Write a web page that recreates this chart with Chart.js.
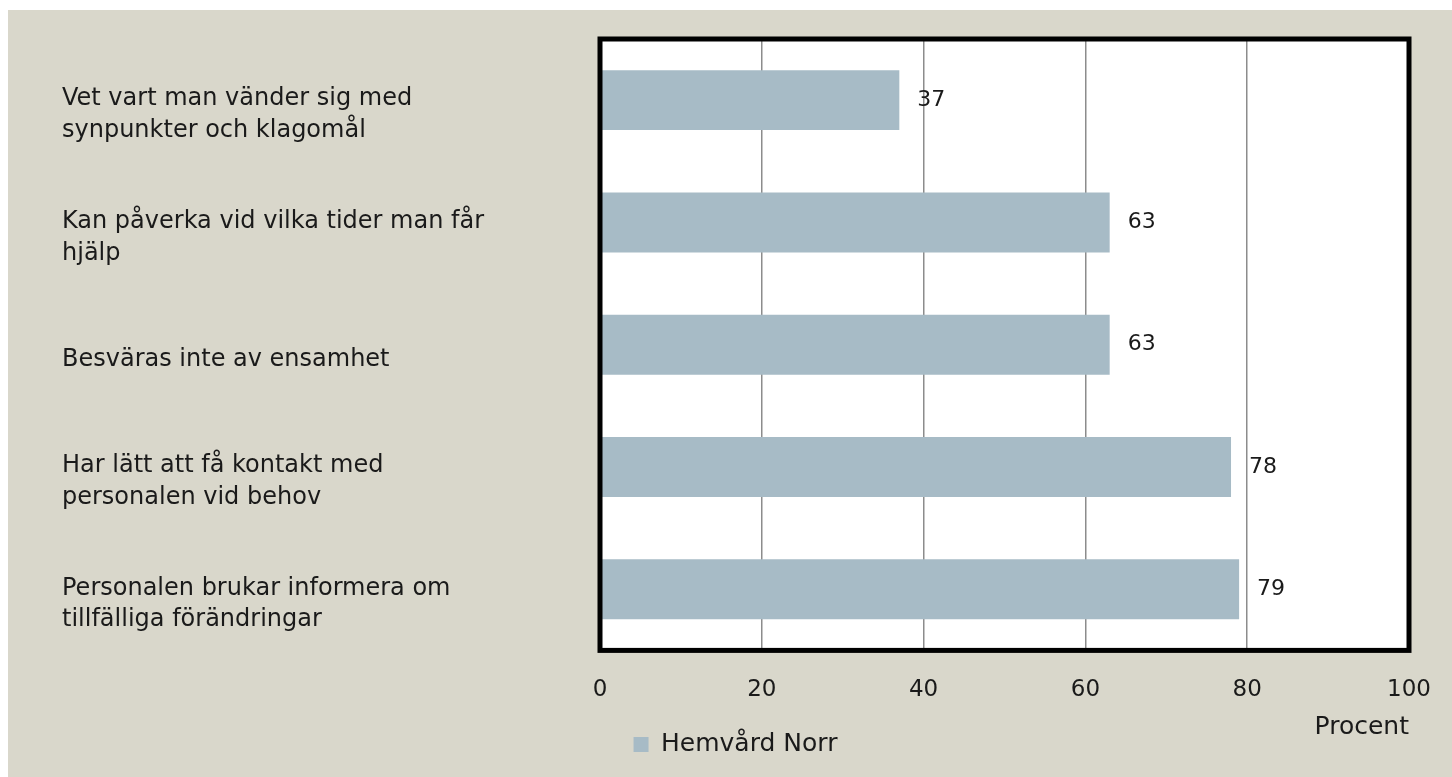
<!DOCTYPE html>
<html>
<head>
<meta charset="utf-8">
<script src="https://cdn.jsdelivr.net/npm/chart.js@4.4.0/dist/chart.umd.min.js"></script>
<style>
    html, body { margin: 0; padding: 0; background: #fff; }
    .chart-wrap { position: absolute; left: 8px; top: 10px; width: 1444px; height: 767px; background: #d9d7cb; }
</style>
</head>
<body>
<div class="chart-wrap"><canvas id="barChart"></canvas></div>
<script>
    // Données
    const categories = [
        ['Vet vart man vänder sig med', 'synpunkter och klagomål'],
        ['Kan påverka vid vilka tider man får', 'hjälp'],
        'Besväras inte av ensamhet',
        ['Har lätt att få kontakt med', 'personalen vid behov'],
        ['Personalen brukar informera om', 'tillfälliga förändringar']
    ];
    const hemvardNorr = [37, 63, 63, 78, 79];
    const seriesName = 'Hemvård Norr';
    const xMin = 0, xMax = 100, xStep = 20;
    const xTitle = 'Procent';

    const FONT = 'DejaVu Sans';
    const TEXT = '#1a1a1a';

    // fond blanc + cadre noir de la zone de tracé
    const plotFrame = {
        id: 'plotFrame',
        beforeDraw(chart) {
            const { ctx, chartArea: a } = chart;
            ctx.save();
            ctx.fillStyle = '#fff';
            ctx.fillRect(a.left, a.top, a.right - a.left, a.bottom - a.top);
            ctx.restore();
        },
        afterDraw(chart) {
            const { ctx, chartArea: a } = chart;
            ctx.save();
            ctx.strokeStyle = '#000';
            ctx.lineWidth = 5;
            ctx.strokeRect(a.left, a.top, a.right - a.left, a.bottom - a.top);
            ctx.restore();
        }
    };

    // étiquettes de valeurs à droite des barres
    const valueLabels = {
        id: 'valueLabels',
        afterDatasetsDraw(chart) {
            const { ctx } = chart;
            const meta = chart.getDatasetMeta(0);
            ctx.save();
            ctx.font = '22px "' + FONT + '"';
            ctx.fillStyle = TEXT;
            ctx.textBaseline = 'middle';
            meta.data.forEach((bar, i) => {
                ctx.fillText(hemvardNorr[i], bar.x + 18, bar.y);
            });
            ctx.restore();
        }
    };

    const ctx = document.getElementById('barChart').getContext('2d');
    const barChart = new Chart(ctx, {
        type: 'bar',
        data: {
            labels: categories,
            datasets: [{
                label: seriesName,
                data: hemvardNorr,
                backgroundColor: '#a7bbc6',
                borderWidth: 0,
                categoryPercentage: 1,
                barPercentage: 0.49
            }]
        },
        options: {
            indexAxis: 'y',
            responsive: true,
            maintainAspectRatio: false,
            animation: false,
            layout: { padding: { left: 54, top: 29, right: 43, bottom: 10 } },
            plugins: {
                tooltip: { enabled: false },
                legend: {
                    position: 'bottom',
                    align: 'center',
                    labels: {
                        boxWidth: 15,
                        boxHeight: 15,
                        color: TEXT,
                        font: { family: FONT, size: 25 },
                        padding: 20
                    }
                }
            },
            scales: {
                x: {
                    min: xMin,
                    max: xMax,
                    ticks: { stepSize: xStep, color: TEXT, font: { family: FONT, size: 23 }, padding: 26 },
                    grid: { color: '#8c8c8c', lineWidth: 1.5, drawTicks: false },
                    border: { display: false },
                    title: {
                        display: true,
                        text: xTitle,
                        align: 'end',
                        color: TEXT,
                        font: { family: FONT, size: 25 },
                        padding: { top: -18, bottom: -30 }
                    },
                    afterFit(scale) { scale.paddingLeft = 0; scale.paddingRight = 0; }
                },
                y: {
                    grid: { display: false },
                    border: { display: false },
                    ticks: {
                        crossAlign: 'far',
                        labelOffset: 15,
                        color: TEXT,
                        font: { family: FONT, size: 24, lineHeight: 1.33 }
                    },
                    afterFit(scale) {
                        scale.width = 538;
                        scale.paddingTop = 0;
                        scale.paddingBottom = 0;
                    }
                }
            }
        },
        plugins: [plotFrame, valueLabels]
    });
</script>
</body>
</html>
